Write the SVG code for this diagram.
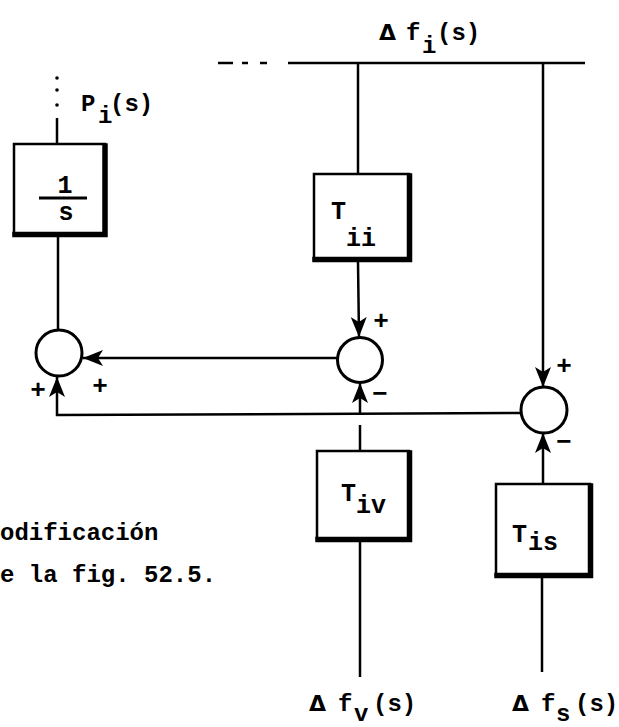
<svg xmlns="http://www.w3.org/2000/svg" width="619" height="727" viewBox="0 0 619 727">
<style>
  .ln { stroke:#000; stroke-width:2.5; fill:none; stroke-linecap:butt; }
  .box { stroke:#000; stroke-width:2.5; fill:#fff; }
  .shadow { stroke:#000; stroke-width:5.5; fill:none; stroke-linecap:square; }
  .sum { stroke:#000; stroke-width:3; fill:#fff; }
  .t { font-family:"Liberation Mono","DejaVu Sans Mono",monospace; font-size:24px; font-weight:bold; fill:#000; }
  .tb { font-family:"Liberation Mono","DejaVu Sans Mono",monospace; font-size:25px; font-weight:bold; fill:#000; }
  .d { font-family:"DejaVu Sans","Liberation Sans",sans-serif; font-size:22px; font-weight:bold; fill:#000; }
  .sg { font-family:"Liberation Mono","DejaVu Sans Mono",monospace; font-size:26px; font-weight:bold; fill:#000; text-anchor:middle; }
  .m { text-anchor:middle; }
</style>
<defs>
  <marker id="ah" markerUnits="userSpaceOnUse" markerWidth="20" markerHeight="16" refX="20" refY="8" orient="auto">
    <path d="M0,0 L20,8 L0,16 L5,8 z" fill="#000"/>
  </marker>
</defs>
<rect width="619" height="727" fill="#fff"/>

<g id="connectors">
  <line class="ln" x1="218" y1="63" x2="233" y2="63" stroke-width="3"/>
  <line class="ln" x1="242" y1="63" x2="248" y2="63" stroke-width="3"/>
  <line class="ln" x1="260" y1="63" x2="267" y2="63" stroke-width="3"/>
  <line class="ln" x1="288" y1="63" x2="585" y2="63"/>
  <circle cx="57" cy="78" r="1.8" fill="#000"/>
  <circle cx="57" cy="90" r="1.8" fill="#000"/>
  <circle cx="57" cy="105" r="1.8" fill="#000"/>
  <line class="ln" x1="57" y1="118" x2="57" y2="144"/>
  <line class="ln" x1="58" y1="237" x2="58" y2="330"/>
  <line class="ln" x1="358" y1="63" x2="358" y2="174"/>
  <line class="ln" x1="358" y1="262" x2="359" y2="337" marker-end="url(#ah)"/>
  <line class="ln" x1="338" y1="358" x2="83" y2="358" marker-end="url(#ah)"/>
  <line class="ln" x1="543" y1="63" x2="543" y2="387" marker-end="url(#ah)"/>
  <polyline class="ln" points="521,413 57,415 57,377" marker-end="url(#ah)"/>
  <line class="ln" x1="360" y1="451" x2="360" y2="425"/>
  <line class="ln" x1="360" y1="414" x2="360" y2="383" marker-end="url(#ah)"/>
  <line class="ln" x1="360" y1="542" x2="360" y2="677"/>
  <line class="ln" x1="543" y1="484" x2="543" y2="433" marker-end="url(#ah)"/>
  <line class="ln" x1="542" y1="578" x2="542" y2="672"/>
</g>

<g id="box_1s">
  <rect class="box" x="14" y="144" width="91" height="90"/>
  <path class="shadow" d="M105,146 V234.5 H15"/>
  <text class="tb m" x="65" y="193">1</text>
  <line x1="39" y1="198" x2="87" y2="198" stroke="#000" stroke-width="3"/>
  <text class="tb m" x="66" y="220">s</text>
</g>

<g id="box_Tii">
  <rect class="box" x="314" y="174" width="95" height="85"/>
  <path class="shadow" d="M409.5,176 V259.5 H315"/>
  <text class="tb" x="331" y="219">T</text>
  <text class="tb" x="346" y="246">ii</text>
</g>

<g id="box_Tiv">
  <rect class="box" x="317" y="451" width="92" height="88"/>
  <path class="shadow" d="M409.5,453 V539.5 H318"/>
  <text class="tb" x="341" y="501">T</text>
  <text class="tb" x="356" y="513">iv</text>
</g>

<g id="box_Tis">
  <rect class="box" x="496" y="484" width="94" height="91"/>
  <path class="shadow" d="M590.5,486 V575.5 H497"/>
  <text class="tb" x="512" y="542">T</text>
  <text class="tb" x="528" y="550">is</text>
</g>

<g id="sum1">
  <circle class="sum" cx="59" cy="353" r="23"/>
  <text class="sg" x="38" y="398">+</text>
  <text class="sg" x="100" y="394">+</text>
</g>

<g id="sum2">
  <circle class="sum" cx="360" cy="360" r="22.5"/>
  <text class="sg" x="381" y="329">+</text>
  <text class="sg" x="380" y="402">−</text>
</g>

<g id="sum3">
  <circle class="sum" cx="544" cy="410" r="23"/>
  <text class="sg" x="564" y="374">+</text>
  <text class="sg" x="564" y="450">−</text>
</g>

<g id="labels">
  <text class="t" x="81" y="111">P</text>
  <text class="t" x="98" y="123">i</text>
  <text class="t" x="110" y="111">(s)</text>

  <text class="d" x="379" y="40">Δ</text>
  <text class="t" x="406" y="40">f</text>
  <text class="t" x="422" y="53">i</text>
  <text class="t" x="437" y="40">(s)</text>

  <text class="d" x="309" y="711">Δ</text>
  <text class="t" x="338" y="711">f</text>
  <text class="t" x="354" y="721">v</text>
  <text class="t" x="373" y="711">(s)</text>

  <text class="d" x="512" y="711">Δ</text>
  <text class="t" x="541" y="711">f</text>
  <text class="t" x="556" y="721">s</text>
  <text class="t" x="575" y="711">(s)</text>

  <text class="t" x="0" y="540">odificación</text>
  <text class="t" x="0" y="582">e la fig. 52.5.</text>
</g>
</svg>
